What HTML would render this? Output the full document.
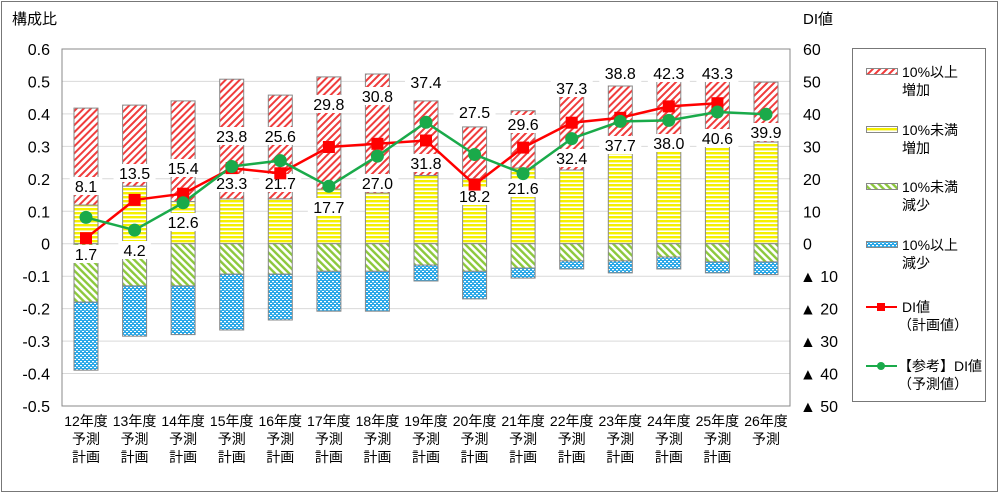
<!DOCTYPE html>
<html><head><meta charset="utf-8"><style>
html,body{margin:0;padding:0;background:#fff}
svg{display:block;font-family:"Liberation Sans","Noto Sans CJK JP",sans-serif}
</style></head><body>
<svg id="c" width="1000" height="494" xmlns="http://www.w3.org/2000/svg">
<defs>
<pattern id="pr" width="5" height="5" patternUnits="userSpaceOnUse" patternTransform="rotate(45)"><rect width="5" height="5" fill="#fff"/><rect width="2" height="5" fill="#f03c3c"/></pattern>
<pattern id="py" width="4" height="4" patternUnits="userSpaceOnUse"><rect width="4" height="4" fill="#fff"/><rect width="4" height="2.4" fill="#f5f000"/></pattern>
<pattern id="pg" width="5" height="5" patternUnits="userSpaceOnUse" patternTransform="rotate(-45)"><rect width="5" height="5" fill="#fff"/><rect width="2.4" height="5" fill="#8cc83c"/></pattern>
<pattern id="pb" width="4" height="4" patternUnits="userSpaceOnUse"><rect width="4" height="4" fill="#2aa8e8"/><rect x="0" y="1" width="2" height="1.2" fill="#fff"/><rect x="2" y="3" width="2" height="1" fill="#fff"/></pattern>
</defs>
<rect x="1.5" y="1.5" width="996" height="490" fill="#fff" stroke="#777" stroke-width="1"/>
<g id="g"></g>
</svg>
<script>
var g=document.getElementById('g'),h='';
var y0=243.7,k=324.5;
function Y(v){return y0-v*k}
for(var i=0;i<=11;i++){var v=0.6-i*0.1,y=Y(v).toFixed(1);
h+='<line x1="62" x2="790" y1="'+y+'" y2="'+y+'" stroke="#d9d9d9"/>';
h+='<text x="50" y="'+(+y+6)+'" font-size="16" text-anchor="end" fill="#000">'+(Math.abs(v)<1e-9?"0":v.toFixed(1))+'</text>';
var d=Math.round(v*100),lab=d>=0?String(d):"▲ "+(-d);
h+='<text x="'+(d>=0?803:800)+'" y="'+(+y+6)+'" font-size="16" fill="#000">'+lab+'</text>';}
h+='<rect x="62" y="49" width="728" height="357" fill="none" stroke="#888"/>';
h+='<text x="12" y="24" font-size="15">構成比</text><text x="803" y="24" font-size="15">DI値</text>';
var R=[.418,.427,.44,.507,.458,.514,.523,.44,.36,.41,.455,.486,.51,.526,.498];
var Yl=[.119,.177,.13,.138,.138,.168,.156,.21,.2,.233,.227,.28,.298,.335,.313];
var G=[-.18,-.13,-.13,-.094,-.094,-.085,-.085,-.066,-.085,-.075,-.053,-.053,-.041,-.056,-.056];
var B=[-.39,-.285,-.28,-.266,-.235,-.208,-.208,-.115,-.17,-.106,-.078,-.09,-.078,-.09,-.095];
var cx=[];for(i=0;i<15;i++)cx.push(86+i*48.57);
for(i=0;i<15;i++){var x=cx[i]-12;
function r(a,b,f){h+='<rect x="'+x.toFixed(1)+'" y="'+Y(a).toFixed(1)+'" width="24" height="'+(Y(b)-Y(a)).toFixed(1)+'" fill="url(#'+f+')" stroke="#888" stroke-width="1"/>';}
r(R[i],Yl[i],'pr');r(Yl[i],0,'py');r(0,G[i],'pg');r(G[i],B[i],'pb');
var yr=["12年度","13年度","14年度","15年度","16年度","17年度","18年度","19年度","20年度","21年度","22年度","23年度","24年度","25年度","26年度"][i];
h+='<text x="'+cx[i]+'" y="426" font-size="14" text-anchor="middle">'+yr+'</text><text x="'+cx[i]+'" y="444" font-size="14" text-anchor="middle">予測</text>';
if(i<14)h+='<text x="'+cx[i]+'" y="462" font-size="14" text-anchor="middle">計画</text>';}
var red=[1.7,13.5,15.4,23.3,21.7,29.8,30.8,31.8,18.2,29.6,37.3,38.8,42.3,43.3];
var grn=[8.1,4.2,12.6,23.8,25.6,17.7,27.0,37.4,27.5,21.6,32.4,37.7,38.0,40.6,39.9];
var L=[[0,"8.1",186],[0,"1.7",254],[1,"13.5",173],[1,"4.2",250],[2,"15.4",168],[2,"12.6",222],[3,"23.8",136],[3,"23.3",183],[4,"25.6",136],[4,"21.7",183],[5,"29.8",104],[5,"17.7",207],[6,"30.8",96],[6,"27.0",183],[7,"37.4",82],[7,"31.8",163],[8,"27.5",112],[8,"18.2",196],[9,"29.6",124],[9,"21.6",188],[10,"37.3",88],[10,"32.4",158],[11,"38.8",73],[11,"37.7",145],[12,"42.3",73],[12,"38.0",143],[13,"43.3",73],[13,"40.6",138],[14,"39.9",132]];
L.forEach(function(l){var x=cx[l[0]],y=l[2],w=l[1].length*9.5+4;
h+='<rect x="'+(x-w/2)+'" y="'+(y-9)+'" width="'+w+'" height="18" fill="#fff"/><text x="'+x+'" y="'+(y+6)+'" font-size="16" text-anchor="middle">'+l[1]+'</text>';});
function pl(a,c){var p=a.map(function(v,j){return cx[j].toFixed(1)+','+Y(v/100).toFixed(1)}).join(' ');h+='<polyline points="'+p+'" fill="none" stroke="'+c+'" stroke-width="2.5"/>';}
pl(red,'#f00');pl(grn,'#1aaa4a');
red.forEach(function(v,j){h+='<rect x="'+(cx[j]-6).toFixed(1)+'" y="'+(Y(v/100)-6).toFixed(1)+'" width="12" height="12" fill="#f00"/>';});
grn.forEach(function(v,j){h+='<circle cx="'+cx[j].toFixed(1)+'" cy="'+Y(v/100).toFixed(1)+'" r="6.5" fill="#1aaa4a"/>';});
h+='<rect x="852.5" y="48.5" width="133" height="353" fill="#fff" stroke="#777"/>';
var LG=[['pr','10%以上','増加',72],['py','10%未満','増加',130],['pg','10%未満','減少',187],['pb','10%以上','減少',245]];
LG.forEach(function(l){h+='<rect x="866.5" y="'+(l[3]-3.5)+'" width="31" height="6" fill="url(#'+l[0]+')" stroke="#888"/><text x="902" y="'+(l[3]+5)+'" font-size="14">'+l[1]+'</text><text x="902" y="'+(l[3]+23)+'" font-size="14">'+l[2]+'</text>';});
h+='<line x1="866" x2="897" y1="307" y2="307" stroke="#f00" stroke-width="2"/><rect x="877" y="303" width="8" height="8" fill="#f00"/><text x="902" y="312" font-size="14">DI値</text><text x="898" y="330" font-size="14">（計画値）</text>';
h+='<line x1="866" x2="897" y1="366" y2="366" stroke="#1aaa4a" stroke-width="2"/><circle cx="881" cy="366" r="4" fill="#1aaa4a"/><text x="898" y="371" font-size="14">【参考】DI値</text><text x="898" y="389" font-size="14">（予測値）</text>';
g.innerHTML=h;
</script>
</body></html>
